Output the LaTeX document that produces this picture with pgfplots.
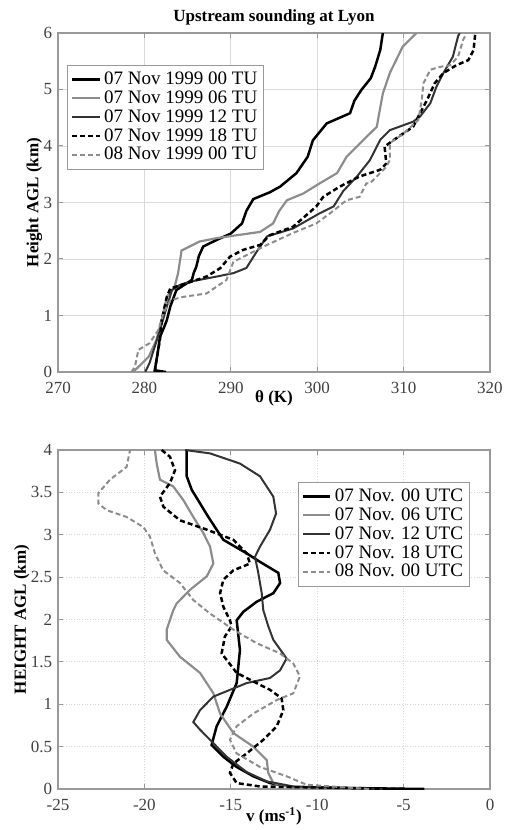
\documentclass[border=0pt]{standalone}
\usepackage{pgfplots}
\pgfplotsset{compat=1.18}
\usepackage{fontspec}
\setmainfont{Liberation Serif}
\definecolor{gridc}{gray}{0.85}
\definecolor{axc}{gray}{0.6}
\pgfplotsset{
  mystyle/.style={
    scale only axis, width=259.2pt, height=203.4pt,
    axis line style={axc, line width=0.8pt},
    tick style={axc, line width=0.6pt},
    major tick length=3pt,
    tick align=inside,
    xtick pos=both, ytick pos=both,
    /pgf/number format/assume math mode=true,
    ticklabel style={font=\fontsize{10.2}{11}\selectfont, color=black!75},
    xticklabel style={yshift=-2.5pt},
    label style={font=\fontsize{10.2}{11}\selectfont\bfseries},
    grid=major,
    legend cell align=left,
    legend style={draw=axc, line width=0.6pt, fill=white,
      font=\fontsize{11.4}{12.8}\selectfont, row sep=-1.8pt, inner sep=2pt},
    legend image code/.code={\draw[##1] (0cm,0cm) -- (0.58cm,0cm);},
  },
  s00/.style={black, line width=1.5pt},
  s06/.style={black!45, line width=1.3pt},
  s12/.style={black!80, line width=1.2pt},
  s18/.style={black, line width=1.5pt, dash pattern=on 3pt off 1.8pt},
  s08/.style={black!45, line width=1.2pt, dash pattern=on 3pt off 1.8pt},
}
\begin{document}
\begin{tikzpicture}
\path[use as bounding box] (0,0) rectangle (304.8pt,498pt);
% ---------------- top axis
\begin{axis}[mystyle,
  at={(34.8pt,274.8pt)}, anchor=south west,
  xmin=270, xmax=320, ymin=0, ymax=6,
  xtick={270,280,...,320}, ytick={0,1,...,6},
  grid style={gridc, line width=0.5pt},
  title={\textbf{Upstream sounding at Lyon}},
  title style={font=\fontsize{10.2}{11}\selectfont, yshift=-5pt},
  xlabel={θ (K)}, ylabel={Height AGL (km)},
  xlabel style={yshift=8.5pt}, ylabel style={yshift=-6pt},
  legend style={at={(0.021,0.906)}, anchor=north west},
]
\addplot[s00] coordinates {
(282.5,0) (281.2,0.03) (281.4,0.21) (281.6,0.4) (281.8,0.62) (282.3,0.8) (282.6,0.92) (283,1.16) (283.7,1.45)
(285.5,1.63) (285.7,1.75) (286,1.86) (286.3,2.05) (286.8,2.22) (288.4,2.34) (290,2.45) (291.3,2.63) (291.8,2.85) (292.6,3.06)
(294.5,3.18) (295.7,3.28) (297.6,3.52) (298.9,3.81) (299.5,4.1) (301.1,4.4) (303.8,4.58)
(304.3,4.8) (305.1,4.99) (306.2,5.2) (306.7,5.4) (307.3,5.7) (307.6,6)};
\addlegendentry{07 Nov 1999 00 TU}
\addplot[s06] coordinates {
(278.7,0) (279.5,0.12) (280.5,0.27) (281.4,0.57) (282,0.92) (282.6,1.33) (283.5,1.51)
(283.9,1.75) (284.3,2.15) (286.4,2.31) (288.4,2.37) (293.4,2.48) (294.9,2.63) (295.6,2.85)
(296.5,3.04) (298.4,3.16) (300.3,3.34) (302.3,3.52) (303.4,3.81) (305.3,4.1)
(306.9,4.34) (307.2,4.6) (307.6,4.93) (308.4,5.29) (309.9,5.76) (311.5,6)};
\addlegendentry{07 Nov 1999 06 TU}
\addplot[s12] coordinates {
(280.1,0) (280.6,0.16) (281.2,0.45) (281.8,0.74) (282.6,1.16) (283.2,1.45) (284.1,1.54)
(285.3,1.6) (288.4,1.69) (290.3,1.75) (291.8,1.84) (293,2.13) (294.2,2.4)
(297.2,2.54) (300.3,2.81) (301.9,2.93) (303,3.2) (304.6,3.46) (306.1,3.75)
(307.3,4.11) (308.4,4.28) (311.1,4.43) (311.9,4.52) (313.1,4.76) (313.8,5.05)
(314.6,5.29) (315.7,5.58) (316.3,5.94) (316.5,6)};
\addlegendentry{07 Nov 1999 12 TU}
\addplot[s18] coordinates {
(281.2,0) (281.4,0.21) (281.8,0.57) (282,0.92) (282.6,1.33) (283,1.48) (284.9,1.57)
(287.2,1.69) (288.8,1.84) (289.9,2.04) (291.4,2.16) (293.4,2.25) (294.5,2.42)
(297.2,2.57) (299.9,2.93) (300.7,3.1) (302.6,3.28) (304.9,3.46) (307.3,3.58)
(308,3.69) (307.8,3.99) (308.8,4.1) (311.1,4.34) (311.7,4.52) (312.7,4.81)
(313.6,5.11) (314.6,5.29) (316.1,5.43) (317.5,5.52) (318.1,5.7) (318.3,6)};
\addlegendentry{07 Nov 1999 18 TU}
\addplot[s08] coordinates {
(278.5,0) (278.9,0.09) (279.3,0.39) (280.6,0.51) (281.6,0.74) (282.2,1.04) (283,1.27)
(284.5,1.33) (287.2,1.39) (289.5,1.63) (290.3,1.95) (294.2,2.25) (297.2,2.46)
(299.9,2.63) (301.5,2.81) (303.4,3.04) (304.9,3.1) (305.7,3.34) (306.1,3.34)
(308,3.63) (308.4,3.75) (308.4,4.05) (310,4.22) (311.7,4.46) (312.1,4.81)
(312.3,5.11) (313.1,5.35) (314.2,5.4) (315.4,5.43) (316.3,5.58) (316.9,5.88) (317.3,6)};
\addlegendentry{08 Nov 1999 00 TU}
\end{axis}
% ---------------- bottom axis
\begin{axis}[mystyle,
  at={(34.8pt,24.6pt)}, anchor=south west,
  xmin=-25, xmax=0, ymin=0, ymax=4,
  xtick={-25,-20,...,0}, ytick={0,0.5,...,4},
  yticklabel style={/pgf/number format/fixed},
  grid style={gridc, line width=0.6pt, densely dotted},
  xlabel={v (ms\textsuperscript{-1})}, ylabel={HEIGHT AGL (km)},
  xlabel style={yshift=8.5pt}, ylabel style={yshift=-6pt},
  legend style={at={(0.954,0.906)}, anchor=north east},
]
\addplot[s00] coordinates {
(-3.8,0) (-11.38,0.02) (-12.73,0.07) (-13.7,0.15) (-14.66,0.26) (-15.43,0.38)
(-16.11,0.52) (-15.82,0.74) (-15.24,0.97) (-14.66,1.25) (-14.47,1.64) (-14.66,1.99)
(-14.28,2.09) (-13.5,2.21) (-12.54,2.31) (-12.15,2.43) (-12.25,2.55) (-13.31,2.68)
(-14.08,2.78) (-15.43,2.94) (-15.82,3.06) (-16.3,3.21) (-16.78,3.37) (-17.26,3.53)
(-17.55,3.69) (-17.55,4)};
\addlegendentry{07 Nov. 00 UTC}
\addplot[s06] coordinates {
(-8,0) (-11.38,0.01) (-12.54,0.07) (-12.83,0.19) (-12.92,0.34) (-13.7,0.5)
(-14.85,0.66) (-15.62,0.89) (-16.01,1.13) (-16.78,1.37) (-17.94,1.56) (-18.71,1.76)
(-18.71,1.88) (-18.33,2.11) (-18.13,2.19) (-17.36,2.35) (-16.39,2.51) (-16.01,2.66)
(-16.2,2.86) (-16.59,3.02) (-17.17,3.21) (-17.75,3.41) (-18.33,3.57) (-19.1,3.65)
(-19.29,3.84) (-19.39,4)};
\addlegendentry{07 Nov. 06 UTC}
\addplot[s12] coordinates {
(-6,0) (-11.38,0.03) (-12.92,0.09) (-14.08,0.2) (-15.24,0.38) (-16.2,0.58)
(-16.78,0.7) (-17.17,0.79) (-16.78,0.93) (-16.01,1.09) (-14.08,1.25) (-12.73,1.31)
(-12.15,1.4) (-11.77,1.54) (-12.54,1.76) (-12.83,1.92) (-13.12,2.11) (-13.21,2.31)
(-13.41,2.55) (-13.6,2.74) (-13.31,2.86) (-12.73,3.06) (-12.38,3.25) (-12.54,3.45)
(-13.31,3.69) (-14.47,3.84) (-16.2,3.96) (-17.65,4)};
\addlegendentry{07 Nov. 12 UTC}
\addplot[s18] coordinates {
(-5,0) (-13.31,0.03) (-14.66,0.07) (-15.05,0.19) (-14.85,0.3) (-14.08,0.42)
(-13.12,0.58) (-12.34,0.74) (-11.96,0.93) (-12.06,1.07) (-12.73,1.17) (-13.7,1.27)
(-14.66,1.37) (-15.53,1.6) (-15.34,1.8) (-14.95,1.92) (-15.05,1.99) (-15.43,2.15)
(-15.62,2.31) (-15.43,2.47) (-14.85,2.58) (-13.89,2.66) (-14.08,2.78) (-14.85,2.94)
(-16.39,3.06) (-17.94,3.17) (-18.9,3.33) (-19.1,3.45) (-18.52,3.61) (-18.23,3.76)
(-18.52,3.92) (-19,4)};
\addlegendentry{07 Nov. 18 UTC}
\addplot[s08] coordinates {
(-7,0) (-10.61,0.05) (-11.77,0.15) (-13.31,0.26) (-14.66,0.42) (-15.05,0.58)
(-14.66,0.74) (-13.7,0.89) (-12.34,1.05) (-11.38,1.13) (-11,1.33) (-11.38,1.48)
(-12.15,1.6) (-13.5,1.72) (-14.85,1.88) (-16.2,2.07) (-17.17,2.23) (-17.94,2.43)
(-18.91,2.58) (-19.39,2.78) (-19.68,2.98) (-20.06,3.09) (-21.03,3.21) (-22.18,3.29)
(-22.67,3.37) (-22.67,3.49) (-21.99,3.65) (-21.03,3.8) (-20.83,4)};
\addlegendentry{08 Nov. 00 UTC}
\end{axis}
\end{tikzpicture}
\end{document}
